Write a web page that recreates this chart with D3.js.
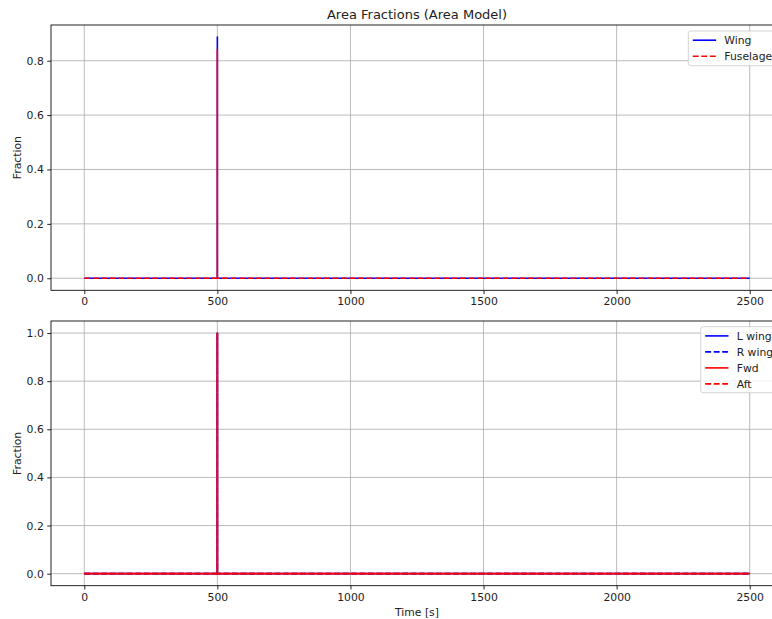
<!DOCTYPE html>
<html>
<head>
<meta charset="utf-8">
<script src="https://cdn.jsdelivr.net/npm/d3@7"></script>
<style>
  html, body { margin: 0; padding: 0; background: #fff; }
  svg { display: block; font-family: "DejaVu Sans", sans-serif; }
</style>
</head>
<body>
<svg id="chart" width="772" height="619"></svg>
<script>
// Sample times [s]
const time = [0, 499.9, 500, 500.1, 2500];

// Upper panel: area fractions by component
const wing     = [0, 0, 0.887, 0, 0];
const fuselage = [0, 0, 0.841, 0, 0];

// Lower panel: area fractions by region
const lWing = [0, 0, 1.0, 0, 0];
const rWing = [0, 0, 1.0, 0, 0];
const fwd   = [0, 0, 1.0, 0, 0];
const aft   = [0, 0, 1.0, 0, 0];

const xTicks = [0, 500, 1000, 1500, 2000, 2500];
const yTicksTop = [0.0, 0.2, 0.4, 0.6, 0.8];
const yTicksBottom = [0.0, 0.2, 0.4, 0.6, 0.8, 1.0];

const titleText = "Area Fractions (Area Model)";
const yLabel = "Fraction";
const xLabel = "Time [s]";

const svg = d3.select("#chart");

const FS = 10.8;          // base font size
const LW = 1.6;           // line width
const DASH = "5.9,2.6";   // dashed line pattern
const GRID = "#b0b0b0";

const plotL = 51, plotR = 783;

const panels = [
  {
    top: 25, bottom: 290.3,
    series: [
      { name: "Wing", values: wing, color: "#0000ff", dashed: false },
      { name: "Fuselage", values: fuselage, color: "#ff0000", dashed: true }
    ],
    yTicks: yTicksTop,
    legend: { x: 688.3, y: 31, h: 34.7 },
    title: titleText,
    xLabel: null
  },
  {
    top: 321, bottom: 585.7,
    series: [
      { name: "L wing", values: lWing, color: "#0000ff", dashed: false },
      { name: "R wing", values: rWing, color: "#0000ff", dashed: true },
      { name: "Fwd", values: fwd, color: "#ff0000", dashed: false },
      { name: "Aft", values: aft, color: "#ff0000", dashed: true }
    ],
    yTicks: yTicksBottom,
    legend: { x: 700.7, y: 326.7, h: 66 },
    title: null,
    xLabel: xLabel
  }
];

// matplotlib-style 5% margins around the data
function padded(lo, hi) {
  const m = (hi - lo) * 0.05;
  return [lo - m, hi + m];
}

const xExt = d3.extent(time);
const x = d3.scaleLinear().domain(padded(xExt[0], xExt[1])).range([plotL, plotR]);

panels.forEach((p, i) => {
  const allVals = p.series.flatMap(s => s.values);
  const yExt = d3.extent(allVals);
  const y = d3.scaleLinear().domain(padded(yExt[0], yExt[1])).range([p.bottom, p.top]);

  const g = svg.append("g");
  const clipId = "clip" + i;
  svg.append("defs").append("clipPath").attr("id", clipId)
    .append("rect").attr("x", plotL).attr("y", p.top)
    .attr("width", plotR - plotL).attr("height", p.bottom - p.top);

  // grid
  const grid = g.append("g").attr("clip-path", `url(#${clipId})`);
  grid.selectAll(".gx").data(xTicks).join("line")
    .attr("x1", d => x(d)).attr("x2", d => x(d))
    .attr("y1", p.top).attr("y2", p.bottom)
    .attr("stroke", GRID).attr("stroke-width", 0.86);
  grid.selectAll(".gy").data(p.yTicks).join("line")
    .attr("x1", plotL).attr("x2", plotR)
    .attr("y1", d => y(d)).attr("y2", d => y(d))
    .attr("stroke", GRID).attr("stroke-width", 0.86);

  // series lines
  const line = d3.line().x((d, k) => x(time[k])).y(d => y(d));
  const lines = g.append("g").attr("clip-path", `url(#${clipId})`);
  p.series.forEach(s => {
    lines.append("path")
      .datum(s.values)
      .attr("d", line)
      .attr("fill", "none")
      .attr("stroke", s.color)
      .attr("stroke-width", LW)
      .attr("stroke-linejoin", "round")
      .attr("stroke-dasharray", s.dashed ? DASH : null);
  });

  // axes
  const xAxis = d3.axisBottom(x).tickValues(xTicks).tickFormat(d3.format("d"))
    .tickSize(3.75).tickPadding(3.5);
  const gx = g.append("g").attr("transform", `translate(0,${p.bottom})`).call(xAxis);
  const yAxis = d3.axisLeft(y).tickValues(p.yTicks).tickFormat(d3.format(".1f"))
    .tickSize(3.75).tickPadding(3.5);
  const gy = g.append("g").attr("transform", `translate(${plotL},0)`).call(yAxis);
  [gx, gy].forEach(a => {
    a.select(".domain").remove();
    a.selectAll(".tick line").attr("stroke", "#000").attr("stroke-width", 0.86);
    a.selectAll(".tick text").attr("fill", "#222").style("font-size", FS + "px")
      .style("font-family", "DejaVu Sans, sans-serif");
  });

  // frame
  g.append("rect").attr("x", plotL).attr("y", p.top)
    .attr("width", plotR - plotL).attr("height", p.bottom - p.top)
    .attr("fill", "none").attr("stroke", "#000").attr("stroke-width", 0.86);

  // y label
  g.append("text")
    .attr("transform", `translate(20.5,${(p.top + p.bottom) / 2}) rotate(-90)`)
    .attr("text-anchor", "middle")
    .style("font-size", FS + "px").attr("fill", "#222")
    .text(yLabel);

  if (p.title) {
    g.append("text").attr("x", (plotL + plotR) / 2).attr("y", p.top - 6.5)
      .attr("text-anchor", "middle").style("font-size", "13px").attr("fill", "#222")
      .text(p.title);
  }
  if (p.xLabel) {
    g.append("text").attr("x", (plotL + plotR) / 2).attr("y", 616)
      .attr("text-anchor", "middle").style("font-size", FS + "px").attr("fill", "#222")
      .text(p.xLabel);
  }

  // legend
  const lg = g.append("g");
  lg.append("rect")
    .attr("x", p.legend.x).attr("y", p.legend.y)
    .attr("width", 100).attr("height", p.legend.h)
    .attr("rx", 2.5).attr("ry", 2.5)
    .attr("fill", "rgba(255,255,255,0.8)").attr("stroke", "#cccccc").attr("stroke-width", 0.86);
  const rowH = 16.0;
  const firstRow = p.legend.y + 9.2;
  p.series.forEach((s, k) => {
    const cy = firstRow + k * rowH;
    const hx = p.legend.x + 4.5;
    lg.append("line")
      .attr("x1", hx).attr("x2", hx + 23.3)
      .attr("y1", cy).attr("y2", cy)
      .attr("stroke", s.color).attr("stroke-width", LW)
      .attr("stroke-dasharray", s.dashed ? DASH : null);
    lg.append("text")
      .attr("x", hx + 31.5).attr("y", cy + 3.9)
      .style("font-size", FS + "px").attr("fill", "#222")
      .text(s.name);
  });
});
</script>
</body>
</html>
